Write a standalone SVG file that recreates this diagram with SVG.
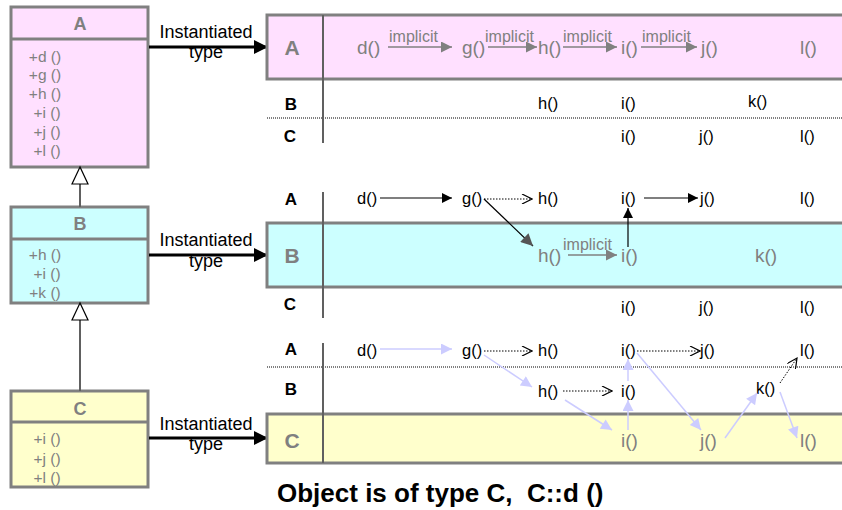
<svg xmlns="http://www.w3.org/2000/svg" width="842" height="510" viewBox="0 0 842 510">
  <defs>
    <style>
      text { font-family: "Liberation Sans", Arial, sans-serif; }
      .cls { stroke: #808080; stroke-width: 3; }
      .title { font-size: 18px; font-weight: bold; fill: #808080; text-anchor: middle; }
      .meth { font-size: 15.5px; fill: #808080; text-anchor: middle; }
      .inst { font-size: 18px; fill: #000; text-anchor: middle; }
      .band { stroke: #808080; stroke-width: 3; }
      .lane { stroke: #606060; stroke-width: 2; }
      .dots { stroke: #000; stroke-width: 1; stroke-dasharray: 1 1; }
      .lbl { font-size: 17px; font-weight: bold; fill: #000; text-anchor: middle; }
      .blbl { font-size: 21px; font-weight: bold; fill: #808080; text-anchor: middle; }
      .fn { font-size: 16.5px; fill: #000; }
      .gfn { font-size: 19px; fill: #808080; }
      .impl { font-size: 16px; fill: #808080; }
      .blk { stroke: #000; stroke-width: 1.2; fill: none; }
      .gry { stroke: #808080; stroke-width: 1.5; fill: none; }
      .lb { stroke: #CCCCFF; stroke-width: 1.5; fill: none; }
      .dot { stroke: #000; stroke-width: 1; stroke-dasharray: 1.5 1.5; fill: none; }
    </style>
    <marker id="mBlk" viewBox="0 0 10 10" refX="10" refY="5" markerWidth="12" markerHeight="10" markerUnits="userSpaceOnUse" orient="auto">
      <path d="M0,0 L10,5 L0,10 Z" fill="#000"/>
    </marker>
    <marker id="mBig" viewBox="0 0 10 10" refX="10" refY="5" markerWidth="14" markerHeight="14" markerUnits="userSpaceOnUse" orient="auto">
      <path d="M0,0 L10,5 L0,10 Z" fill="#000"/>
    </marker>
    <marker id="mGry" viewBox="0 0 10 10" refX="10" refY="5" markerWidth="13" markerHeight="11" markerUnits="userSpaceOnUse" orient="auto">
      <path d="M0,0 L10,5 L0,10 Z" fill="#808080"/>
    </marker>
    <marker id="mDk" viewBox="0 0 10 10" refX="10" refY="5" markerWidth="14" markerHeight="12" markerUnits="userSpaceOnUse" orient="auto">
      <path d="M0,0 L10,5 L0,10 Z" fill="#555"/>
    </marker>
    <marker id="mLb" viewBox="0 0 10 10" refX="10" refY="5" markerWidth="13" markerHeight="11" markerUnits="userSpaceOnUse" orient="auto">
      <path d="M0,0 L10,5 L0,10 Z" fill="#CCCCFF"/>
    </marker>
    <marker id="mOpen" viewBox="0 0 10 10" refX="10" refY="5" markerWidth="12" markerHeight="10" markerUnits="userSpaceOnUse" orient="auto">
      <path d="M0,0 L10,5 L0,10" fill="none" stroke="#000" stroke-width="1.2"/>
    </marker>
  </defs>

  <!-- class A -->
  <g id="classA">
    <rect class="cls" x="11" y="7" width="137" height="160" fill="#FFE0FF"/>
    <line class="cls" x1="11" y1="39" x2="148" y2="39"/>
    <text class="title" x="80" y="30">A</text>
    <text class="meth" x="45" y="62">+d ()</text>
    <text class="meth" x="45" y="80">+g ()</text>
    <text class="meth" x="45" y="99">+h ()</text>
    <text class="meth" x="47" y="118">+i ()</text>
    <text class="meth" x="47" y="137">+j ()</text>
    <text class="meth" x="47" y="156">+l ()</text>
  </g>

  <!-- class B -->
  <g id="classB">
    <rect class="cls" x="11" y="207" width="137" height="96" fill="#CCFFFF"/>
    <line class="cls" x1="11" y1="239" x2="148" y2="239"/>
    <text class="title" x="80" y="230">B</text>
    <text class="meth" x="45" y="260">+h ()</text>
    <text class="meth" x="47" y="279">+i ()</text>
    <text class="meth" x="45" y="298">+k ()</text>
  </g>

  <!-- class C -->
  <g id="classC">
    <rect class="cls" x="11" y="391" width="137" height="96" fill="#FFFFCC"/>
    <line class="cls" x1="11" y1="422" x2="148" y2="422"/>
    <text class="title" x="80" y="415">C</text>
    <text class="meth" x="47" y="444">+i ()</text>
    <text class="meth" x="47" y="464">+j ()</text>
    <text class="meth" x="47" y="483">+l ()</text>
  </g>

  <!-- inheritance and instantiation links -->
  <g id="connectors">
    <line x1="80" y1="207" x2="80" y2="184" stroke="#606060" stroke-width="2"/>
    <polygon points="80,167 72,184 88,184" fill="#fff" stroke="#000" stroke-width="1.2"/>
    <line x1="80" y1="391" x2="80" y2="320" stroke="#606060" stroke-width="2"/>
    <polygon points="80,303 72,320 88,320" fill="#fff" stroke="#000" stroke-width="1.2"/>

    <line x1="149" y1="47" x2="268" y2="47" stroke="#000" stroke-width="3" marker-end="url(#mBig)"/>
    <line x1="149" y1="255" x2="268" y2="255" stroke="#000" stroke-width="3" marker-end="url(#mBig)"/>
    <line x1="149" y1="438" x2="268" y2="438" stroke="#000" stroke-width="3" marker-end="url(#mBig)"/>
  </g>
  <text class="inst" x="206" y="38">Instantiated</text>
  <text class="inst" x="206" y="58">type</text>
  <text class="inst" x="206" y="246">Instantiated</text>
  <text class="inst" x="206" y="267">type</text>
  <text class="inst" x="206" y="430">Instantiated</text>
  <text class="inst" x="206" y="450">type</text>

  <!-- ===== instance of A ===== -->
  <g id="sectionA">
    <rect class="band" x="267" y="15" width="590" height="64" fill="#FFE0FF"/>
    <line class="dots" x1="267" y1="118" x2="842" y2="118"/>
    <line class="lane" x1="323" y1="15" x2="323" y2="143"/>
    <text class="blbl" x="292" y="55">A</text>
    <text class="lbl" x="291" y="110">B</text>
    <text class="lbl" x="290" y="142">C</text>

    <text class="gfn" x="357" y="54">d()</text>
    <text class="gfn" x="462" y="54">g()</text>
    <text class="gfn" x="538" y="54">h()</text>
    <text class="gfn" x="621" y="54">i()</text>
    <text class="gfn" x="701" y="54">j()</text>
    <text class="gfn" x="800" y="54">l()</text>
    <line class="gry" x1="388" y1="47" x2="452" y2="47" marker-end="url(#mGry)"/>
    <line class="gry" x1="488" y1="47" x2="537" y2="47" marker-end="url(#mGry)"/>
    <line class="gry" x1="563" y1="47" x2="617" y2="47" marker-end="url(#mGry)"/>
    <line class="gry" x1="641" y1="47" x2="697" y2="47" marker-end="url(#mGry)"/>
    <text class="impl" x="389" y="42">implicit</text>
    <text class="impl" x="485" y="42">implicit</text>
    <text class="impl" x="563" y="42">implicit</text>
    <text class="impl" x="642" y="42">implicit</text>

    <text class="fn" x="538" y="109">h()</text>
    <text class="fn" x="621" y="109">i()</text>
    <text class="fn" x="748" y="107">k()</text>
    <text class="fn" x="621" y="142">i()</text>
    <text class="fn" x="699" y="142">j()</text>
    <text class="fn" x="800" y="142">l()</text>
  </g>

  <!-- ===== instance of B ===== -->
  <g id="sectionB">
    <rect class="band" x="267" y="223" width="590" height="64" fill="#CCFFFF"/>
    <line class="lane" x1="323" y1="192" x2="323" y2="318"/>
    <text class="lbl" x="291" y="205">A</text>
    <text class="blbl" x="292" y="263">B</text>
    <text class="lbl" x="290" y="310">C</text>

    <text class="fn" x="357" y="204">d()</text>
    <text class="fn" x="462" y="204">g()</text>
    <text class="fn" x="538" y="204">h()</text>
    <text class="fn" x="621" y="204">i()</text>
    <text class="fn" x="700" y="204">j()</text>
    <text class="fn" x="800" y="204">l()</text>
    <line class="blk" x1="380" y1="198" x2="452" y2="198" marker-end="url(#mBlk)"/>
    <line class="dot" x1="484" y1="199" x2="532" y2="199" marker-end="url(#mOpen)"/>
    <line class="blk" x1="484" y1="199" x2="533" y2="246" marker-end="url(#mDk)"/>
    <line class="blk" x1="644" y1="198" x2="698" y2="198" marker-end="url(#mBlk)"/>
    <line class="blk" x1="628" y1="247" x2="628" y2="208" marker-end="url(#mBlk)"/>

    <text class="gfn" x="538" y="262">h()</text>
    <text class="gfn" x="621" y="262">i()</text>
    <text class="gfn" x="755" y="262">k()</text>
    <line class="gry" x1="568" y1="255" x2="617" y2="255" marker-end="url(#mGry)"/>
    <text class="impl" x="563" y="250">implicit</text>

    <text class="fn" x="621" y="313">i()</text>
    <text class="fn" x="699" y="313">j()</text>
    <text class="fn" x="800" y="313">l()</text>
  </g>

  <!-- ===== instance of C ===== -->
  <g id="sectionC">
    <rect class="band" x="267" y="414" width="590" height="49" fill="#FFFFCC"/>
    <line class="dots" x1="267" y1="367" x2="842" y2="367"/>
    <line class="lane" x1="323" y1="343" x2="323" y2="463"/>
    <text class="lbl" x="291" y="355">A</text>
    <text class="lbl" x="291" y="395">B</text>
    <text class="blbl" x="292" y="448">C</text>

    <text class="fn" x="357" y="356">d()</text>
    <text class="fn" x="462" y="356">g()</text>
    <text class="fn" x="538" y="356">h()</text>
    <text class="fn" x="621" y="356">i()</text>
    <text class="fn" x="700" y="356">j()</text>
    <text class="fn" x="800" y="356">l()</text>
    <text class="fn" x="538" y="397">h()</text>
    <text class="fn" x="621" y="397">i()</text>
    <text class="fn" x="756" y="394">k()</text>
    <text class="gfn" x="621" y="447">i()</text>
    <text class="gfn" x="700" y="447">j()</text>
    <text class="gfn" x="800" y="447">l()</text>

    <line class="lb" x1="380" y1="349" x2="452" y2="349" marker-end="url(#mLb)"/>
    <line class="dot" x1="484" y1="351" x2="532" y2="351" marker-end="url(#mOpen)"/>
    <line class="lb" x1="484" y1="355" x2="532" y2="387" marker-end="url(#mLb)"/>
    <line class="dot" x1="563" y1="391" x2="612" y2="391" marker-end="url(#mOpen)"/>
    <line class="lb" x1="565" y1="400" x2="612" y2="430" marker-end="url(#mLb)"/>
    <line class="lb" x1="628" y1="430" x2="628" y2="400" marker-end="url(#mLb)"/>
    <line class="lb" x1="628" y1="381" x2="628" y2="359" marker-end="url(#mLb)"/>
    <line class="dot" x1="637" y1="351" x2="700" y2="351" marker-end="url(#mOpen)"/>
    <line class="lb" x1="637" y1="353" x2="701" y2="430" marker-end="url(#mLb)"/>
    <line class="lb" x1="725" y1="438" x2="757" y2="393" marker-end="url(#mLb)"/>
    <line class="dot" x1="780" y1="383" x2="797" y2="358" marker-end="url(#mOpen)"/>
    <line class="lb" x1="780" y1="392" x2="797" y2="438" marker-end="url(#mLb)"/>
  </g>

  <text x="277" y="502" font-size="26" font-weight="bold" fill="#000" style="white-space:pre">Object is of type C,  C::d ()</text>
</svg>
